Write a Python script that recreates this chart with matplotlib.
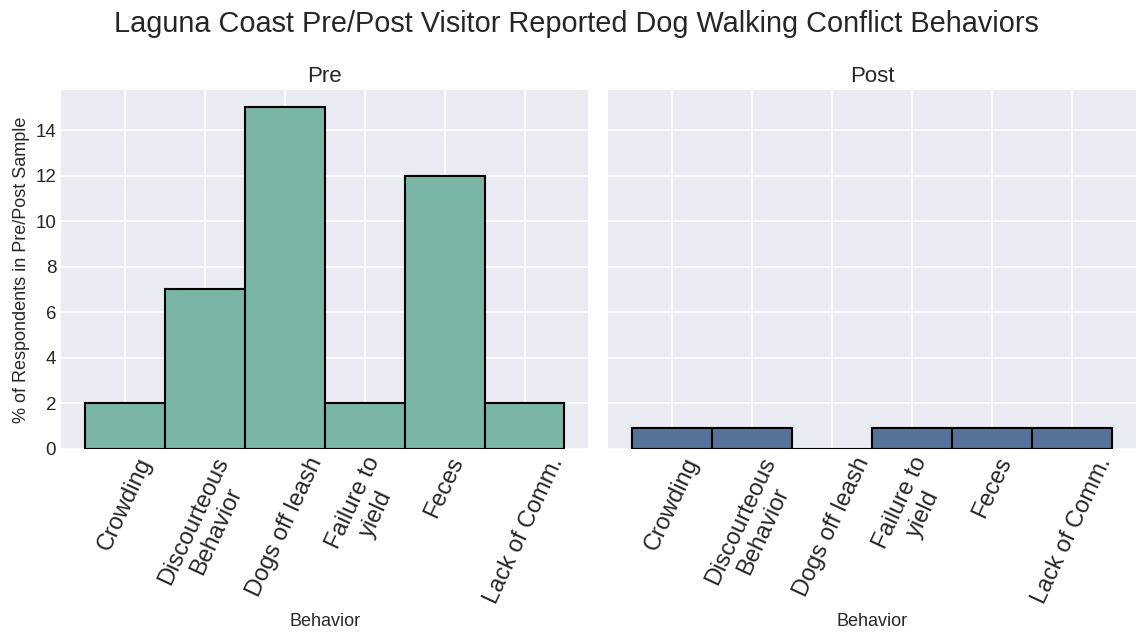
import numpy as np
import matplotlib
matplotlib.use("Agg")
import matplotlib.pyplot as plt

plt.style.use("seaborn-v0_8-darkgrid")
plt.rcParams['font.family'] = ['Liberation Sans', 'DejaVu Sans']

# datos
behaviors = ["Crowding", "Discourteous\nBehavior", "Dogs off leash",
             "Failure to\nyield", "Feces", "Lack of Comm."]
pre = [2, 7, 15, 2, 12, 2]
post = [0.9, 0.9, 0, 0.9, 0.9, 0.9]

x = np.arange(len(behaviors))

fig, axes = plt.subplots(1, 2, figsize=(11.37, 6.35), dpi=100, sharey=True)

for ax, vals, col, name in zip(axes, [pre, post], ["#7ab5a7", "#557399"], ["Pre", "Post"]):
    ax.bar(x, vals, width=1, color=col, edgecolor="black", linewidth=1.5)
    ax.set_xticks(x)
    ax.set_xticklabels(behaviors, rotation=65, ha="center", fontsize=17)
    ax.set_title(name, fontsize=16)
    ax.set_xlabel("Behavior", fontsize=13)
    ax.tick_params(axis="y", labelsize=13.5)
    ax.grid(True, color="white", linewidth=1.2)
    ax.set_axisbelow(True)

axes[0].set_ylabel("% of Respondents in Pre/Post Sample", fontsize=13)
axes[0].set_ylim(0, 15.75)
axes[0].set_xlim(-0.8, 5.8)
axes[1].set_xlim(-0.8, 5.8)

fig.suptitle("Laguna Coast Pre/Post Visitor Reported Dog Walking Conflict Behaviors",
             fontsize=20.8, x=0.507, y=0.985)
fig.subplots_adjust(left=0.0537, right=0.999, top=0.858, bottom=0.293, wspace=0.038)
plt.savefig("out.png")
